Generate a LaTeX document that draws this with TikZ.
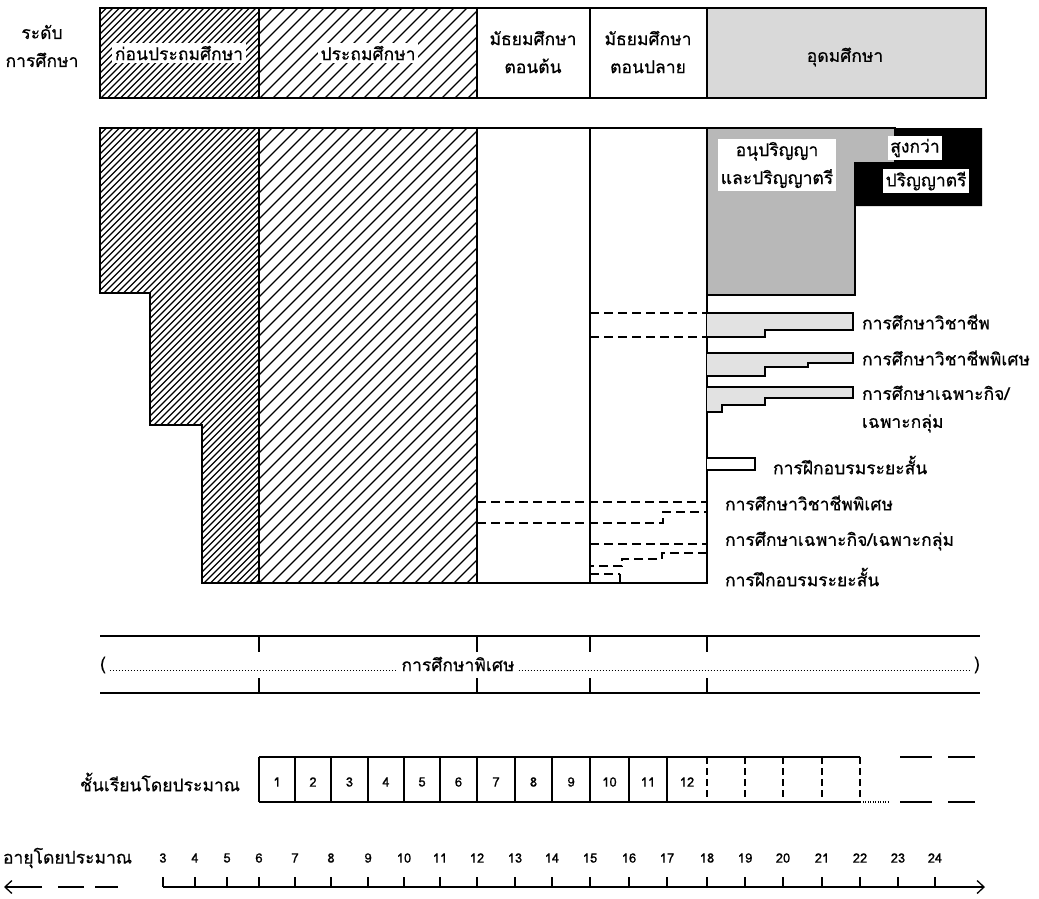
\documentclass[tikz,border=0pt]{standalone}
\usepackage{fontspec}
\setmainfont{Loma}[Script=Thai,FakeBold=0.6]
\usetikzlibrary{arrows.meta}

\definecolor{cffffff}{RGB}{255,255,255}
\definecolor{cd9d9d9}{RGB}{217,217,217}
\definecolor{cb8b8b8}{RGB}{184,184,184}
\definecolor{ce2e2e2}{RGB}{226,226,226}

\tikzset{
  box/.style={draw=black,line width=1.5pt},
  thinbox/.style={draw=black,line width=1.1pt},
  hatchline/.style={draw=black,line width=1.2pt},
  dashline/.style={draw=black,line width=1.5pt,dash pattern=on 9pt off 5pt},
  dotline/.style={draw=black,line width=0.8pt,dash pattern=on 1pt off 2pt},
  whitetag/.style={fill=cffffff,inner sep=2.5pt},
  thtext/.style={font=\fontsize{17.5}{28}\selectfont},
  numtext/.style={font=\fontsize{13}{15}\selectfont},
  bigtip/.style={-{Straight Barb[length=7pt,width=13pt,line width=1.3pt]}},
}

\begin{document}
\begin{tikzpicture}[y=1pt, x=1pt, yscale=-1, inner sep=0pt, outer sep=0pt, thtext]
\useasboundingbox (0,0) rectangle (1039,898);

\begin{scope}% header row
  % hatch pre-primary
  \begin{scope}
    \clip (100,8) rectangle (259,98);
    \foreach \c in {108,114.5,...,362}
      \draw[hatchline] (\c-98,98) -- (\c-8,8);
  \end{scope}
  % hatch primary
  \begin{scope}
    \clip (259,8) rectangle (477,98);
    \foreach \c in {267,280,...,580}
      \draw[hatchline] (\c-98,98) -- (\c-8,8);
  \end{scope}
  \fill[cd9d9d9] (707,8) rectangle (986,98);
  \draw[box] (100,8) rectangle (986,98);
  \foreach \x in {259,477,590,707}
    \draw[box] (\x,8) -- (\x,98);

  \node[align=center] (level) at (42,46) {ระดับ\\การศึกษา};
  \node[whitetag] (hpre) at (179,53) {ก่อนประถมศึกษา};
  \node[whitetag] (hpri) at (368,53) {ประถมศึกษา};
  \node[align=center] (hlsec) at (533,52) {มัธยมศึกษา\\ตอนต้น};
  \node[align=center] (husec) at (648,52) {มัธยมศึกษา\\ตอนปลาย};
  \node (hhigh) at (845,57) {อุดมศึกษา};
\end{scope}

\begin{scope}% main body
  % hatch pre-primary
  \begin{scope}
    \clip (100,128) -- (259,128) -- (259,583) -- (202,583) -- (202,425) --
      (150,425) -- (150,293) -- (100,293) -- cycle;
    \foreach \c in {228,234.5,...,848}
      \draw[hatchline] (\c-583,583) -- (\c-128,128);
  \end{scope}
  % hatch primary
  \begin{scope}
    \clip (259,128) rectangle (477,583);
    \foreach \c in {387,400,...,1066}
      \draw[hatchline] (\c-583,583) -- (\c-128,128);
  \end{scope}
  \draw[box] (100,128) -- (259,128) -- (259,583) -- (202,583) -- (202,425) --
    (150,425) -- (150,293) -- (100,293) -- cycle;
  \draw[box] (259,128) rectangle (477,583);
  \draw[box] (477,128) rectangle (590,583);
  \draw[box] (590,128) rectangle (707,583);

  % higher education
  \path[fill=cb8b8b8,box] (707,128) -- (895,128) -- (895,163) -- (855,163) --
    (855,295) -- (707,295) -- cycle;
  \path[fill=black] (895,128) -- (982,128) -- (982,206) -- (855,206) --
    (855,163) -- (895,163) -- cycle;
  \node[whitetag,align=center] (ubach) at (777,165) {อนุปริญญา\\และปริญญาตรี};
  \node[whitetag] (ugrad1) at (915,148) {สูงกว่า};
  \node[whitetag] (ugrad2) at (926,181) {ปริญญาตรี};

  % vocational bars
  \path[fill=ce2e2e2,box] (707,313) -- (853,313) -- (853,330) -- (765,330) --
    (765,337) -- (707,337);
  \path[fill=ce2e2e2,box] (707,353) -- (853,353) -- (853,363) -- (808,363) --
    (808,367) -- (765,367) -- (765,376) -- (707,376);
  \path[fill=ce2e2e2,box] (707,387) -- (853,387) -- (853,398) -- (765,398) --
    (765,405) -- (722,405) -- (722,412) -- (707,412);
  \path[fill=cffffff,box] (707,458) -- (755,458) -- (755,470) -- (707,470);
  \node[anchor=west] (voc) at (862,322) {การศึกษาวิชาชีพ};
  \node[anchor=west] (vocsp) at (862,358) {การศึกษาวิชาชีพพิเศษ};
  \node[anchor=west,align=left] (adhoc) at (862,409) {การศึกษาเฉพาะกิจ/\\เฉพาะกลุ่ม};
  \node[anchor=west] (short) at (773,465) {การฝึกอบรมระยะสั้น};

  % dashed lines in secondary columns
  \draw[dashline] (590,313) -- (707,313);
  \draw[dashline] (590,337) -- (707,337);
  \draw[dashline] (477,502) -- (707,502);
  \draw[dashline] (477,523) -- (663,523) -- (663,512) -- (707,512);
  \draw[dashline] (590,544) -- (707,544);
  \draw[dashline] (707,553) -- (662,553) -- (662,559) -- (622,559) --
    (622,566) -- (590,566);
  \draw[dashline] (590,574) -- (620,574);
  \draw[thinbox] (620,574) -- (620,583);
  \node[anchor=west] (vocsp2) at (725,503) {การศึกษาวิชาชีพพิเศษ};
  \node[anchor=west] (adhoc2) at (725,541) {การศึกษาเฉพาะกิจ/เฉพาะกลุ่ม};
  \node[anchor=west] (short2) at (725,577) {การฝึกอบรมระยะสั้น};
\end{scope}

\begin{scope}% special education band
  \draw[box] (100,636) -- (980,636);
  \draw[box] (100,693) -- (980,693);
  \foreach \x in {259,477,590,707} {
    \draw[box] (\x,636) -- (\x,652);
    \draw[box] (\x,678) -- (\x,693);
  }
  \node (lpar) at (103,665) {(};
  \node (spec) at (458,664) {การศึกษาพิเศษ};
  \node (rpar) at (977,665) {)};
  \draw[dotline] ([xshift=4pt]lpar.east |- 0,670) -- ([xshift=-4pt]spec.west |- 0,670);
  \draw[dotline] ([xshift=4pt]spec.east |- 0,670) -- ([xshift=-3pt]rpar.west |- 0,670);
\end{scope}

\begin{scope}% grades
  \node[anchor=east] (gradelbl) at (240,782) {ชั้นเรียนโดยประมาณ};
  \draw[thinbox] (259,757) -- (860,757);
  \draw[thinbox] (259,802) -- (860,802);
  \draw[thinbox,dash pattern=on 1pt off 1.5pt] (860,802) -- (888,802);
  \foreach \y in {757,802} {
    \draw[box] (900,\y) -- (932,\y);
    \draw[box] (948,\y) -- (975,\y);
  }
  \foreach \a/\b/\n in {259/295/1,295/331/2,331/368/3,368/404/4,404/440/5,
      440/477/6,477/515/7,515/552/8,552/590/9,590/629/10,629/667/11,667/707/12} {
    \draw[thinbox] (\a,757) -- (\a,802);
    \node[numtext] (grade\n) at ({(\a+\b)/2},782) {\n};
  }
  \foreach \x in {707,745,783,822,860}
    \draw[thinbox,dash pattern=on 7pt off 4pt] (\x,757) -- (\x,802);
\end{scope}

\begin{scope}% ages
  \node[anchor=west] (agelbl) at (3,858) {อายุโดยประมาณ};
  \coordinate (lefttip) at (4,887);
  \coordinate (leftend) at (42,887);
  \draw[thinbox,bigtip] (leftend) -- (lefttip);
  \draw[box] (58,887) -- (84,887);
  \draw[box] (95,887) -- (118,887);
  \foreach \x/\n in {163/3,195/4,227/5,259/6,295/7,331/8,368/9,404/10,440/11,
      477/12,515/13,552/14,590/15,629/16,667/17,707/18,745/19,783/20,822/21,
      860/22,898/23,935/24} {
    \draw[thinbox] (\x,877) -- (\x,887);
    \node[numtext] (age\n) at (\x,858) {\n};
  }
  \coordinate (axstart) at (163,887);
  \coordinate (axend) at (935,887);
  \coordinate (axtip) at (985,887);
  \draw[thinbox] (axstart) -- (axend);
  \draw[thinbox,bigtip] (axend) -- (axtip);
\end{scope}
\end{tikzpicture}
\end{document}
